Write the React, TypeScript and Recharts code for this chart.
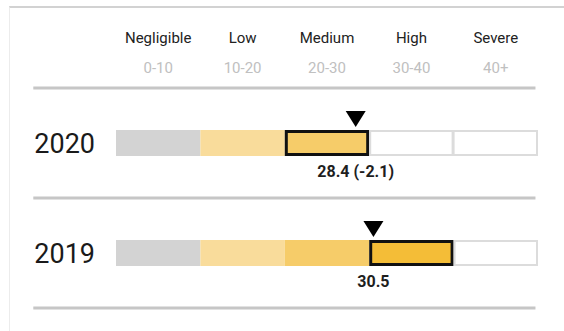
import React from 'react';
import { ComposedChart, Bar, Cell, XAxis, YAxis, Scatter, ReferenceLine } from 'recharts';

const years = ['2020', '2019'];
const scores = [28.4, 30.5];
const changes: (number | null)[] = [-2.1, null];
const categories = ['Negligible', 'Low', 'Medium', 'High', 'Severe'];
const ranges = ['0-10', '10-20', '20-30', '30-40', '40+'];
const segmentSize = [10, 10, 10, 10, 10];
const segmentColors = ['#d3d3d3', '#f9dc9b', '#f6cc69', '#f4bd37', '#ee9d2e'];

const FONT = 'Roboto, "Noto Sans", sans-serif';
const BAR_SIZE = 26;

const rows = years.map((year, i) => {
  const r: any = { year, score: scores[i], change: changes[i] };
  segmentSize.forEach((v, k) => (r['s' + k] = v));
  return r;
});

const tickValues = segmentSize.map((v, k) => segmentSize.slice(0, k).reduce((a, b) => a + b, 0) + v / 2);

function currentSeg(score: number) {
  let acc = 0;
  for (let k = 0; k < segmentSize.length; k++) {
    acc += segmentSize[k];
    if (score < acc) return k;
  }
  return segmentSize.length - 1;
}

const SegShape = (p: any) => {
  const { x, y, width, height, fill, segkind } = p;
  if (segkind === 'cur') {
    return (
      <rect x={x + 1.5} y={y + 1.5} width={width - 3} height={height - 3} fill={fill} stroke="#111" strokeWidth={3} />
    );
  }
  if (segkind === 'future' || segkind === 'futureFirst') {
    const l = segkind === 'futureFirst' ? 1 : 0;
    return (
      <rect x={x + l} y={y + 1} width={width - 1 - l} height={height - 2} fill="#fff" stroke="#dcdcdc" strokeWidth={2} />
    );
  }
  return <rect x={x} y={y} width={width} height={height} fill={fill} />;
};

const HeaderTick = (props: any) => {
  const { x, y, payload } = props;
  const i = tickValues.indexOf(payload.value);
  return (
    <g>
      <text x={x} y={y - 45} textAnchor="middle" fontSize={15} fill="#222" fontFamily={FONT}>
        {categories[i]}
      </text>
      <text x={x} y={y - 15} textAnchor="middle" fontSize={15} fill="#c0c0c0" fontFamily={FONT}>
        {ranges[i]}
      </text>
    </g>
  );
};

const Marker = (props: any) => {
  const { cx, cy, payload } = props;
  if (cx == null || cy == null) return null;
  const tip = cy - BAR_SIZE / 2 - 3;
  const label =
    payload.change != null
      ? `${payload.score.toFixed(1)} (${payload.change > 0 ? '+' : ''}${payload.change.toFixed(1)})`
      : payload.score.toFixed(1);
  return (
    <g>
      <path d={`M${cx - 10},${tip - 16} L${cx + 10},${tip - 16} L${cx},${tip} Z`} fill="#000" />
      <text x={cx} y={cy + 34} textAnchor="middle" fontSize={16} fontWeight={700} fill="#1e1e1e" fontFamily={FONT}>
        {label}
      </text>
    </g>
  );
};

export default function App() {
  return (
    <div style={{ position: 'absolute', left: 0, top: 0, width: 564, height: 331, background: '#fff' }}>
      <div
        style={{
          position: 'absolute',
          left: 9,
          top: 6,
          right: 0,
          bottom: 0,
          borderTop: '2px solid #d2d2d2',
          borderLeft: '1px solid #ececec',
        }}
      />
      <div style={{ position: 'absolute', left: 0, top: 0 }}>
        <ComposedChart
          width={564}
          height={331}
          data={rows}
          layout="vertical"
          margin={{ top: 0, right: 26, bottom: 23, left: 0 }}
        >
          <XAxis
            type="number"
            domain={[0, 50]}
            orientation="top"
            ticks={tickValues}
            interval={0}
            tick={<HeaderTick />}
            tickLine={false}
            axisLine={false}
            tickSize={0}
            tickMargin={0}
            height={88}
            allowDataOverflow
          />
          <YAxis
            type="category"
            dataKey="year"
            width={116}
            tickLine={false}
            axisLine={false}
            tickSize={0}
            tickMargin={21}
            tick={{ fontSize: 27, fill: '#1a1a1a', fontFamily: FONT }}
          />
          <ReferenceLine
            segment={[{ x: -9.8, y: '2020' }, { x: 49.7, y: '2020' }]}
            position="start"
            ifOverflow="visible"
            stroke="#c6c6c6"
            strokeWidth={3}
          />
          <ReferenceLine
            segment={[{ x: -9.8, y: '2020' }, { x: 49.7, y: '2020' }]}
            position="end"
            ifOverflow="visible"
            stroke="#c6c6c6"
            strokeWidth={3}
          />
          <ReferenceLine
            segment={[{ x: -9.8, y: '2019' }, { x: 49.7, y: '2019' }]}
            position="end"
            ifOverflow="visible"
            stroke="#c6c6c6"
            strokeWidth={3}
          />
          {segmentSize.map((_, k) => (
            <Bar
              key={k}
              dataKey={'s' + k}
              stackId="scale"
              barSize={BAR_SIZE}
              isAnimationActive={false}
              shape={SegShape}
            >
              {rows.map((r, ri) => {
                const cur = currentSeg(r.score);
                const kind = k < cur ? 'past' : k === cur ? 'cur' : k === cur + 1 ? 'futureFirst' : 'future';
                return <Cell key={ri} fill={segmentColors[k]} {...({ segkind: kind } as any)} />;
              })}
            </Bar>
          ))}
          <Scatter dataKey="score" isAnimationActive={false} shape={Marker} />
        </ComposedChart>
      </div>
    </div>
  );
}
